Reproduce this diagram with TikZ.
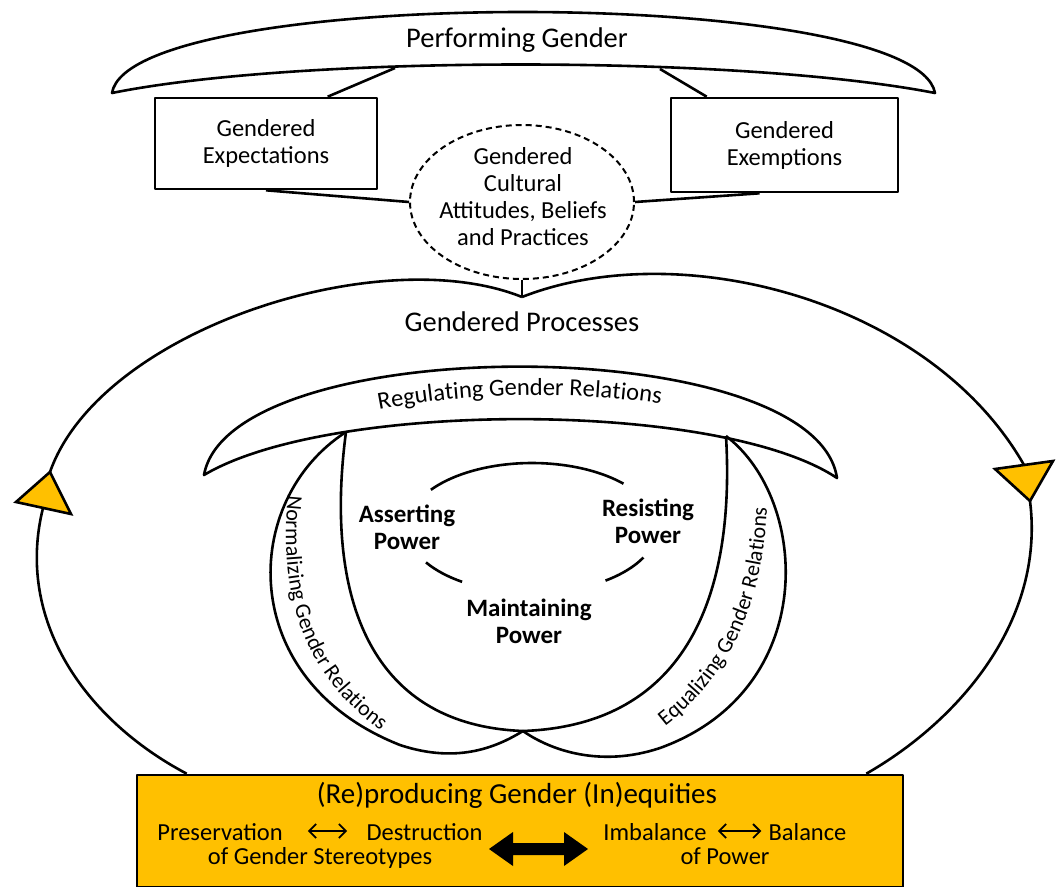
\documentclass[tikz,border=0pt]{standalone}
\usepackage{fontspec}
\setmainfont{Carlito}
\usetikzlibrary{decorations.text,shapes.geometric,arrows.meta}
\definecolor{gold}{HTML}{FFC000}
\newcommand\fsBig{\fontsize{28.5}{30}\selectfont}
\newcommand\fsMid{\fontsize{24.5}{27}\selectfont}
\newcommand\fsPow{\bfseries\fontsize{25}{27}\selectfont}
\newcommand\fsReg{\fontsize{24.5}{24}\selectfont}
\newcommand\fsSide{\fontsize{22}{22}\selectfont}
\begin{document}
\begin{tikzpicture}[x=1pt,y=-1pt,line width=2.6pt,line join=round,
  ttl/.style={font=\fsBig,inner sep=0pt},
  txt/.style={font=\fsMid,align=center,inner sep=0pt},
  powlabel/.style={font=\fsPow,align=center,inner sep=0pt},
  framebox/.style={draw,line width=2.6pt,font=\fsMid,align=center,inner sep=0pt},
  marker/.style={fill=gold,draw=black,line width=2.6pt,line join=miter},
  sidetext/.style={decorate,decoration={text along path,text align=center,text={#1}}},
  dblarrow/.style={{Straight Barb[length=7pt,width=14pt]}-{Straight Barb[length=7pt,width=14pt]},line width=1.8pt},
]
\useasboundingbox (0,0) rectangle (1057,886);

% ---------- Performing Gender ----------
\draw (112,93) .. controls (130,-15) and (915,-15) .. (935,93)
      .. controls (740,55) and (300,55) .. cycle;
\node[ttl] (perf) at (517,40) {Performing Gender};
\coordinate (lensL) at (395,68);
\coordinate (lensR) at (660,69);

\node[framebox,minimum width=222pt,minimum height=91pt] (exp) at (266,143.5) {Gendered\\Expectations};
\node[framebox,minimum width=227pt,minimum height=94pt] (exm) at (784.5,145) {Gendered\\Exemptions};

\node[ellipse,draw,line width=2pt,dash pattern=on 6pt off 4pt,minimum width=224pt,minimum height=154pt,inner sep=0pt] (cult) at (522,202) {};
\node[txt] (culttxt) at (523,197) {Gendered\\Cultural\\Attitudes, Beliefs\\and Practices};

\draw (lensL) -- ([xshift=174pt]exp.north west);
\draw (lensR) -- ([xshift=37pt]exm.north west);
\draw (exp.south) -- (cult.west);
\draw ([xshift=-25pt]exm.south) -- (cult.east);

\coordinate (cusp) at (522,297);
\draw[line width=1.4pt] (cult.south) -- (cusp);

% ---------- Gendered Processes loop ----------
\node[draw,fill=gold,line width=2.6pt,minimum width=766pt,minimum height=112pt,inner sep=0pt] (repro) at (520,831) {};
\coordinate (loopL) at ([xshift=51pt]repro.north west);
\coordinate (loopR) at ([xshift=-38pt]repro.north east);
\draw (loopL) .. controls (85,720) and (15,620) .. (43,508) -- (50,472)
      .. controls (100,330) and (380,240) .. (cusp);
\draw (cusp) .. controls (680,235) and (930,300) .. (1024,465) -- (1030,501)
      .. controls (1045,620) and (960,720) .. (loopR);
\draw[marker] (50,472) -- (16,502) -- (71,514) -- cycle;
\draw[marker] (995,469) -- (1053,461) -- (1030,501) -- cycle;

\node[ttl] (proc) at (522,322) {Gendered Processes};

% ---------- Regulating crescent ----------
\draw (204,475) .. controls (230,330) and (815,330) .. (837,478)
      .. controls (720,400) and (330,400) .. cycle;
\path[sidetext={|\fsReg|Regulating Gender Relations}] (355,415) .. controls (460,390) and (590,390) .. (685,408);

% ---------- lobes ----------
\coordinate (A) at (346,432);
\coordinate (B) at (726,436);
\coordinate (C) at (523,731);
\draw (A) .. controls (325,590) and (365,725) .. (C) .. controls (690,725) and (735,590) .. (B);
\draw (A) .. controls (240,500) and (235,680) .. (400,745) .. controls (460,765) and (500,745) .. (C);
\draw (B) .. controls (810,500) and (820,690) .. (660,748) .. controls (600,768) and (550,750) .. (C);
\path[sidetext={|\fsSide|Normalizing Gender Relations}] (290,478) .. controls (275,590) and (300,680) .. (395,740);
\path[sidetext={|\fsSide|Equalizing Gender Relations}] (632,748) .. controls (725,695) and (772,605) .. (767,468);

% ---------- power cycle ----------
\draw (430.9,489.8) arc[start angle=-144,end angle=-43,x radius=125,y radius=65];
\draw (426,562.4) arc[start angle=148,end angle=124,x radius=125,y radius=65];
\draw (605.5,580.6) arc[start angle=54,end angle=27,x radius=125,y radius=65];
\node[powlabel] (assert) at (407,527) {Asserting\\Power};
\node[powlabel] (resist) at (648,521) {Resisting\\Power};
\node[powlabel] (maint) at (529,621) {Maintaining\\Power};

% ---------- bottom box ----------
\node[ttl,anchor=base,font=\fontsize{29}{30}\selectfont] (reprotitle) at (517,803) {(Re)producing Gender (In)equities};
\node[txt,anchor=base] (pres) at (220,840) {Preservation};
\node[txt,anchor=base] (destr) at (424.5,840) {Destruction};
\node[txt,anchor=base] (stereo) at (320,864) {of Gender Stereotypes};
\node[txt,anchor=base] (imb) at (655,840) {Imbalance};
\node[txt,anchor=base] (bal) at (807.5,840) {Balance};
\node[txt,anchor=base] (ofpow) at (725,864) {of Power};
\draw[dblarrow] ([shift={(24pt,9pt)}]pres.base east) -- ([shift={(-18pt,9pt)}]destr.base west);
\draw[dblarrow] ([shift={(10pt,9pt)}]imb.base east) -- ([shift={(-6pt,9pt)}]bal.base west);
\fill (489,849) -- (513,832) -- (513,843) -- (564,843) -- (564,832) -- (588,849)
      -- (564,866) -- (564,855) -- (513,855) -- (513,866) -- cycle;
\end{tikzpicture}
\end{document}
